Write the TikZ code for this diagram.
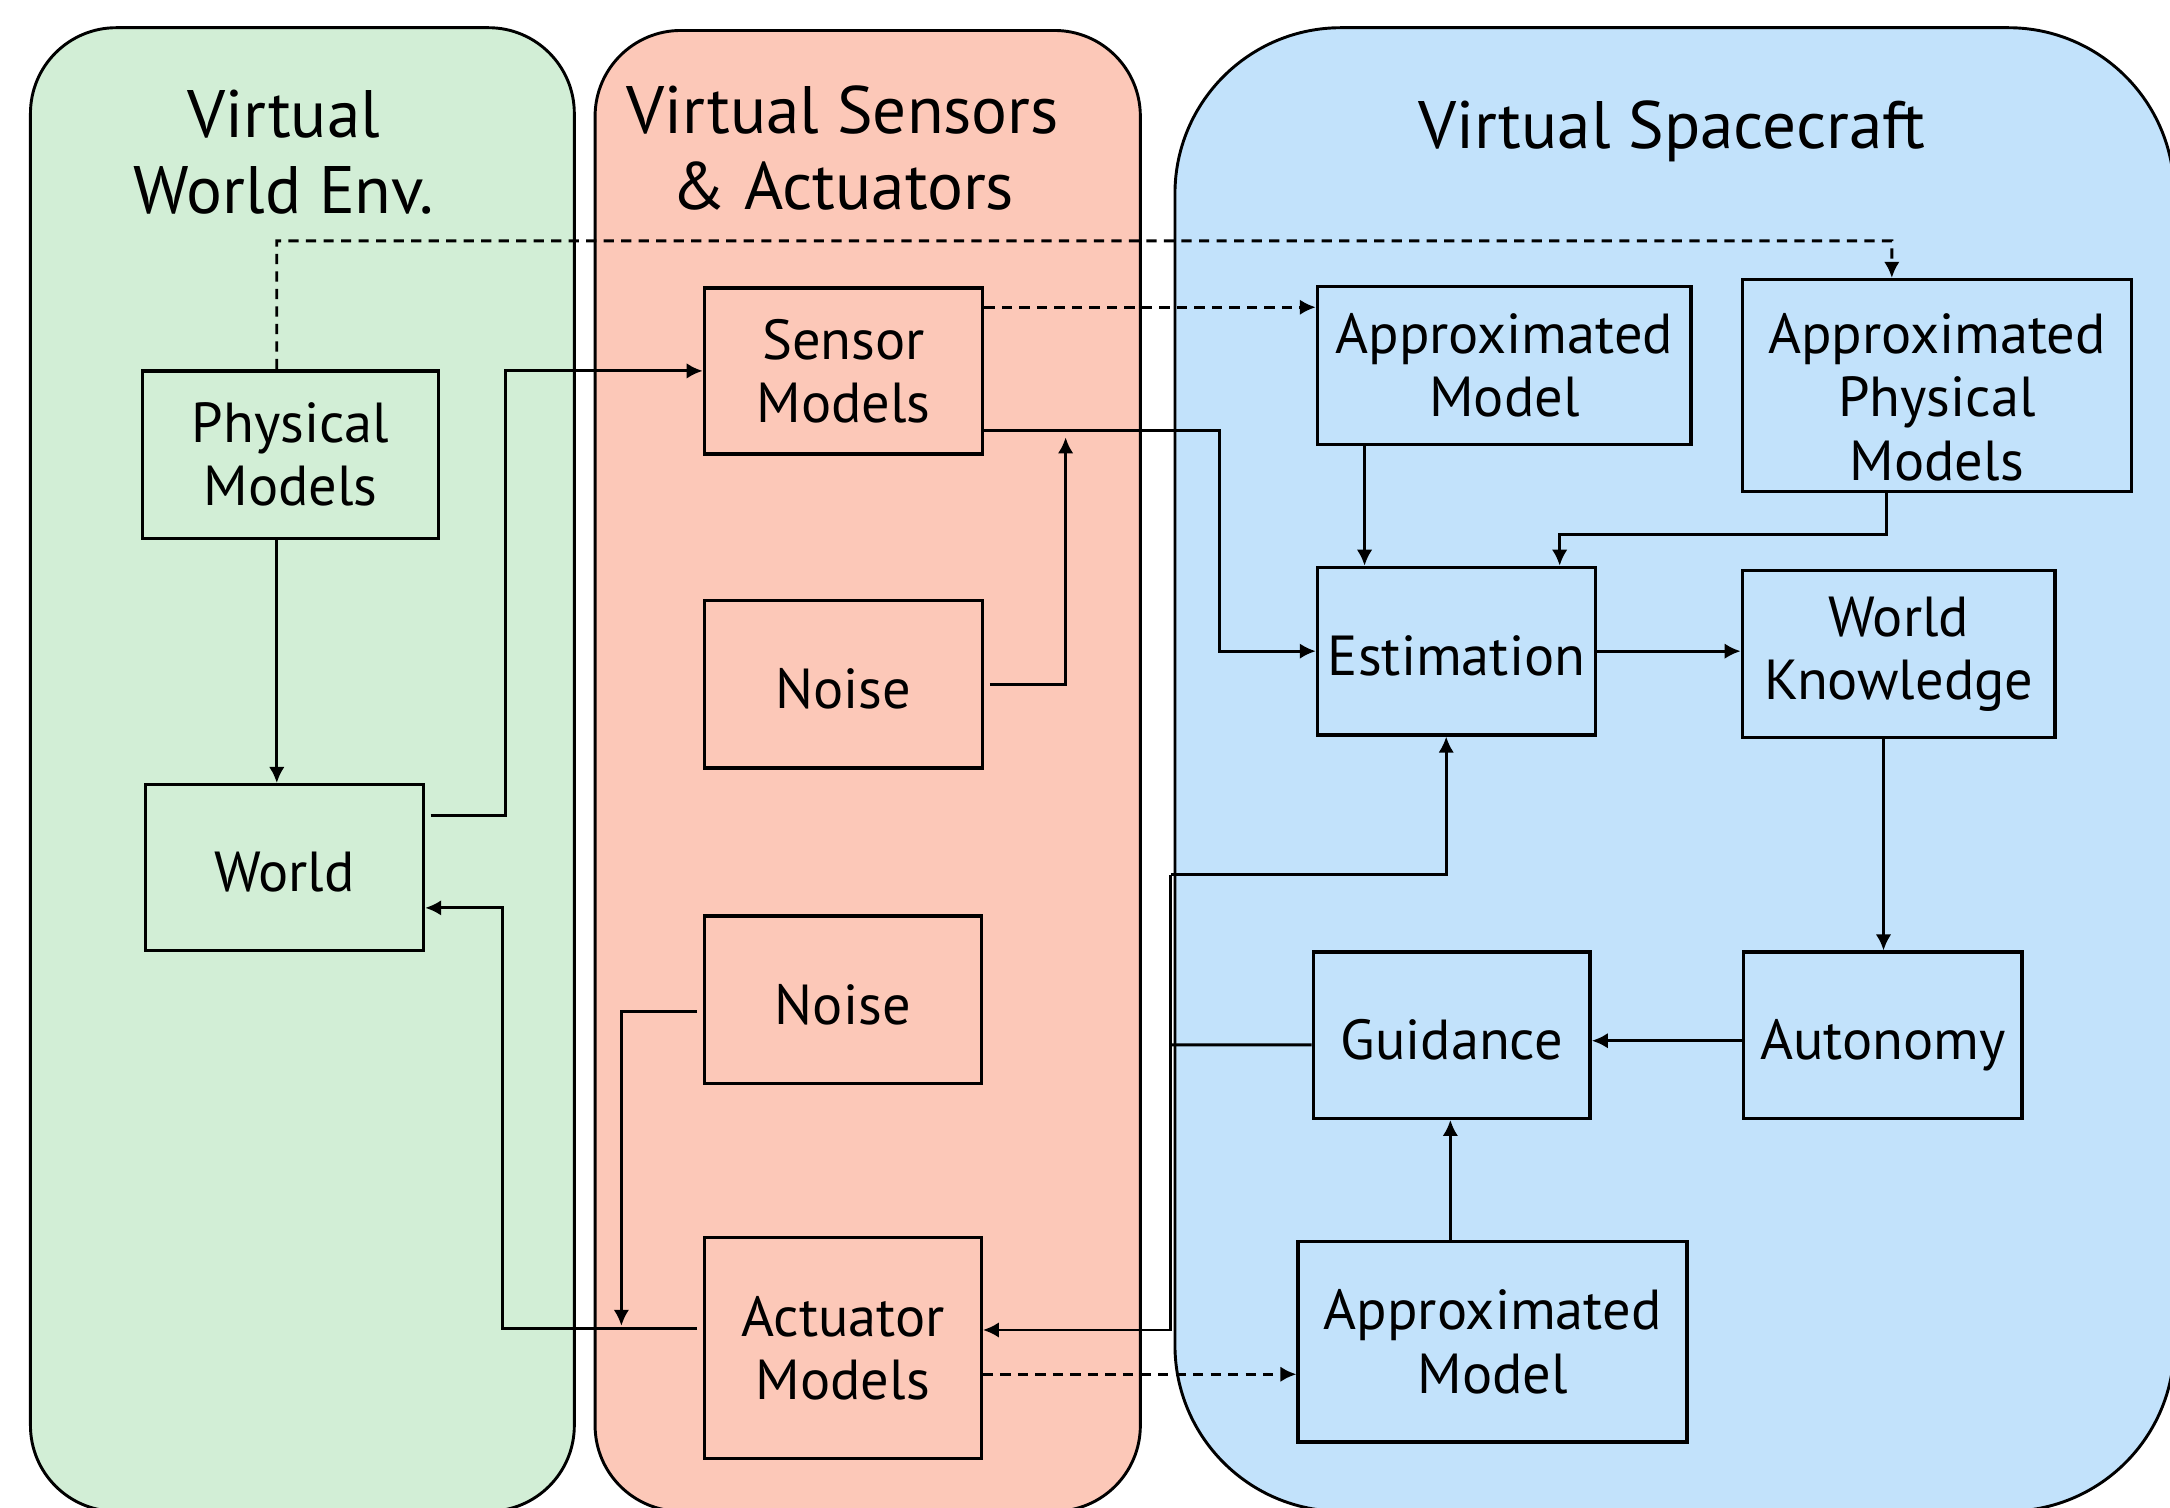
\documentclass[tikz,border=0pt]{standalone}
\usepackage{fontspec}
\setmainfont{PT Sans}
\usepackage{xcolor}
\usepackage{tikz}
\usetikzlibrary{positioning}
\usetikzlibrary{calc}
\usetikzlibrary{arrows.meta}

\definecolor{envgreen}{RGB}{210,238,214}
\definecolor{sensred}{RGB}{252,200,184}
\definecolor{craftblue}{RGB}{194,226,251}

\begin{document}
\begin{tikzpicture}[x=0.1mm, y=-0.1mm, line width=0.6pt,
  >={Latex[length=3.3pt,width=3.2pt]},
  panel/.style={draw=black, line width=0.6pt},
  blockbox/.style={draw=black, line width=0.7pt, align=center, inner sep=0pt, font=\fontsize{11.6}{13}\selectfont},
  oneline/.style={text height=3.5mm, text depth=0mm},
  paneltitle/.style={align=center, inner sep=0pt, font=\fontsize{13.8}{15.7}\selectfont},
  dashline/.style={dash pattern=on 2.1pt off 1.5pt}]
\clip (0,0) rectangle (1568,1089);
\fill[white] (0,0) rectangle (1568,1089);

% the three lanes
\draw[panel, fill=envgreen, rounded corners=6.2mm] (22,20) rectangle (415,1092);
\draw[panel, fill=sensred, rounded corners=6.2mm] (430,22) rectangle (824,1092);
\draw[panel, fill=craftblue, rounded corners=12mm] (849,20) rectangle (1571,1092);

\node[paneltitle] (tEnv) at (205,110) {Virtual\\World Env.};
\node[paneltitle] (tSens) at (609,107) {Virtual Sensors\\\& Actuators};
\node[paneltitle] (tCraft) at (1208,95) {Virtual Spacecraft};

% world env
\node[blockbox, minimum width=21.4mm, minimum height=12.1mm] (phys) at (210,328.5) {Physical\\Models};
\node[blockbox, oneline, minimum width=20.1mm, minimum height=12mm] (world) at (205.5,627) {World};

% sensors and actuators
\node[blockbox, minimum width=20.1mm, minimum height=12mm] (sensor) at (609.5,268) {Sensor\\Models};
\node[blockbox, oneline, minimum width=20.1mm, minimum height=12.1mm] (noiseS) at (609.5,494.5) {Noise};
\node[blockbox, oneline, minimum width=20mm, minimum height=12.1mm] (noiseA) at (609,722.5) {Noise};
\node[blockbox, minimum width=20mm, minimum height=16mm] (actuator) at (609,974) {Actuator\\Models};

% spacecraft
\node[blockbox, minimum width=27mm, minimum height=11.4mm] (apxS) at (1087,264) {Approximated\\Model};
\node[blockbox, minimum width=28.1mm, minimum height=15.3mm] (apxPhys) at (1399.5,278.5) {};
\node[blockbox, draw=none] (apxPhysTxt) at (1399.5,287) {Approximated\\Physical\\Models};
\node[blockbox, oneline, minimum width=20.1mm, minimum height=12.1mm] (estim) at (1052.5,470.5) {Estimation};
\node[blockbox, minimum width=22.6mm, minimum height=12.1mm] (wknow) at (1372,472.5) {World\\Knowledge};
\node[blockbox, oneline, minimum width=20mm, minimum height=12mm] (guid) at (1049,748) {Guidance};
\node[blockbox, oneline, minimum width=20.1mm, minimum height=12mm] (auton) at (1360.5,748) {Autonomy};
\node[blockbox, minimum width=28.1mm, minimum height=14.5mm] (apxA) at (1078.5,969.5) {Approximated\\Model};

% bend points
\coordinate (dtop) at (1367,174);
\coordinate (bendS) at (881,400);
\coordinate (sumS) at (770,316);
\coordinate (bendW) at (365,400);
\coordinate (bendA) at (363,800);
\coordinate (sumA) at (449,958);
\coordinate (jG) at (846,755);
\coordinate (jTop) at (846,632);
\coordinate (jBot) at (846,961);
\coordinate (bendP) at (1200,386);

% dashed links
\draw[dashline,->] ([xshift=-1mm]phys.north) |- (dtop) -- ([xshift=-3.25mm]apxPhys.north);
\draw[dashline,->] ([yshift=4.6mm]sensor.east) -- ([yshift=4.6mm]sensor.east -| apxS.west);
\draw[dashline,->] ([yshift=-1.9mm]actuator.east) -- ([yshift=-1.9mm]actuator.east -| apxA.west);

% world env links
\draw[->] ([xshift=-1mm]phys.south) -- ([xshift=-1mm]phys.south |- world.north);
\draw[->] ([xshift=0.4mm,yshift=3.8mm]world.east) -| (bendW) |- (sensor.west);
\draw[->] ([xshift=-0.4mm,yshift=1.4mm]actuator.west) -| (bendA) |- ([yshift=-2.9mm]world.east);

% sensor side
\draw[->] ([yshift=-4.3mm]sensor.east) -| (bendS) |- (estim.west);
\draw[->] ([xshift=0.4mm]noiseS.east) -| (sumS);
\draw[->] ([xshift=-0.4mm,yshift=-0.85mm]noiseA.west) -| (sumA);

% spacecraft links
\draw[->] ([xshift=-10.1mm]apxS.south) -- ([xshift=-10.1mm]apxS.south |- estim.north);
\draw[->] ([xshift=-3.65mm]apxPhys.south) |- (bendP) -| ([xshift=7.45mm]estim.north);
\draw[->] (estim.east) -- (estim.east -| wknow.west);
\draw[->] ([xshift=-1.1mm]wknow.south) -- ([xshift=-1.1mm]wknow.south |- auton.north);
\draw[->] ([yshift=-0.4mm]auton.west) -- ([yshift=-0.4mm]auton.west -| guid.east);
\draw[->] ([xshift=-3.05mm]apxA.north) -- ([xshift=-3.05mm]apxA.north |- guid.south);

% guidance out
\draw ([yshift=-0.7mm]guid.west) -- (jG);
\draw[->] (jTop) -- (jBot) -- (jBot -| actuator.east);
\draw[->] (jTop) -| ([xshift=-0.75mm]estim.south);
\end{tikzpicture}
\end{document}
